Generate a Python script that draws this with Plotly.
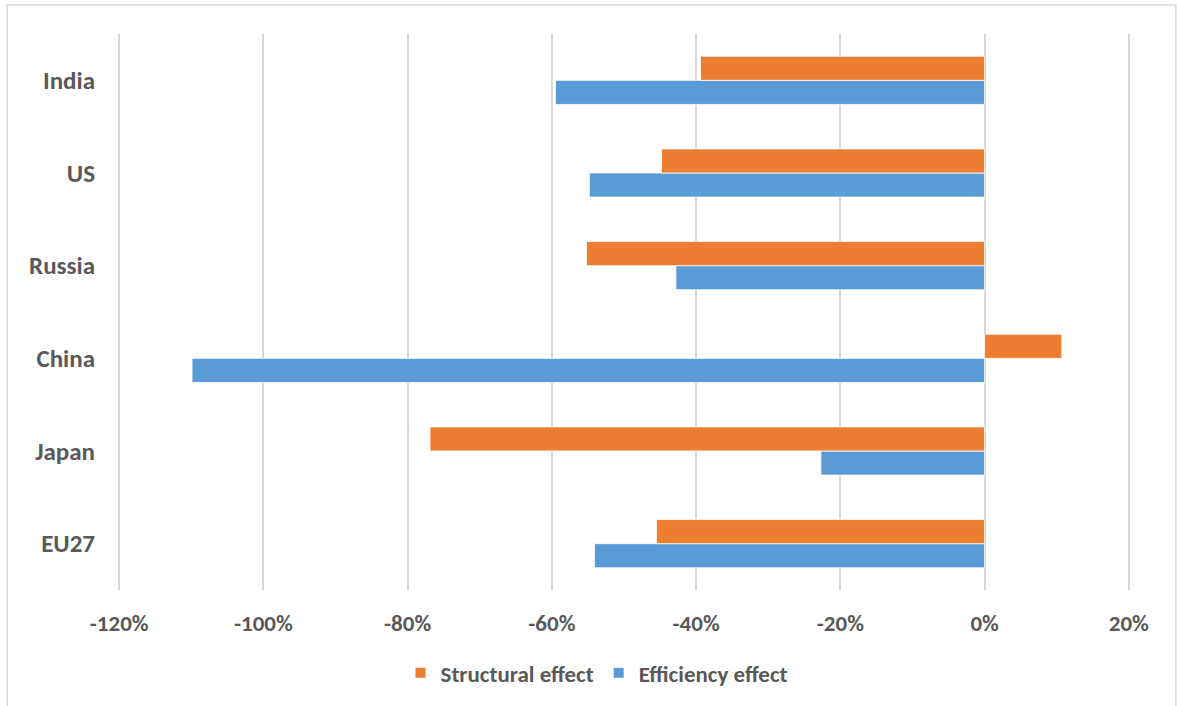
import plotly.graph_objects as go

# Decomposition of energy intensity change by country (share, %)
countries = ["EU27", "Japan", "China", "Russia", "US", "India"]
structural_effect = [-45.5, -76.9, 10.7, -55.2, -44.8, -39.4]
efficiency_effect = [-54.1, -22.7, -109.9, -42.8, -54.8, -59.5]

x_tick_values = [-120, -100, -80, -60, -40, -20, 0, 20]
x_tick_labels = ["-120%", "-100%", "-80%", "-60%", "-40%", "-20%", "0%", "20%"]

ORANGE = "#ED7D31"
BLUE = "#5B9BD5"
TEXT = "#595959"
GRID = "#D9D9D9"
FONT = "Carlito, Calibri, Lato, sans-serif"

W, H = 1177, 706
# padding of the x range so the outermost gridlines are drawn inside the plot
PAD = 0.3
PX_PER_UNIT = 1010 / 140
ML = 119 - PAD * PX_PER_UNIT
MR = 48 - PAD * PX_PER_UNIT
MT, MB = 34, 116

fig = go.Figure()
# Efficiency trace first so it sits below the structural bar in each group
fig.add_trace(go.Bar(
    y=countries, x=efficiency_effect, orientation="h", name="Efficiency effect",
    marker=dict(color=BLUE, line=dict(color="#ffffff", width=0.8)),
    legendrank=2,
))
fig.add_trace(go.Bar(
    y=countries, x=structural_effect, orientation="h", name="Structural effect",
    marker=dict(color=ORANGE, line=dict(color="#ffffff", width=0.8)),
    legendrank=1,
))

# Outer chart frame
pw, ph = W - ML - MR, H - MT - MB
fig.add_shape(
    type="rect", xref="paper", yref="paper",
    x0=(7 - ML) / pw, x1=(1176 - ML) / pw,
    y0=(H - MB - 712) / ph, y1=(H - MB - 5) / ph,
    line=dict(color=GRID, width=1.5), fillcolor="rgba(0,0,0,0)", layer="below",
)

fig.update_layout(
    width=W, height=H,
    margin=dict(l=ML, r=MR, t=MT, b=MB),
    paper_bgcolor="white", plot_bgcolor="white",
    barmode="group", bargap=0.48, bargroupgap=0,
    font=dict(family=FONT, color=TEXT, size=18),
    showlegend=True,
    legend=dict(
        orientation="h", x=(597 - ML) / pw, xanchor="center", y=-0.149, yanchor="middle",
        font=dict(family=FONT, size=23, color=TEXT, weight="bold"),
        itemsizing="constant", bgcolor="rgba(0,0,0,0)",
    ),
    xaxis=dict(
        range=[-120 - PAD, 20 + PAD], tickvals=x_tick_values, ticktext=x_tick_labels,
        showgrid=True, gridcolor=GRID, gridwidth=2, zeroline=False,
        showline=False, ticks="", ticklabelstandoff=17,
        tickfont=dict(family=FONT, size=23, color=TEXT, weight="bold"),
        fixedrange=True,
    ),
    yaxis=dict(
        type="category", categoryorder="array", categoryarray=countries,
        showgrid=False, zeroline=False, showline=False, ticks="",
        ticklabelstandoff=21,
        tickfont=dict(family=FONT, size=25, color=TEXT, weight="bold"),
        fixedrange=True,
    ),
)

fig.write_html("out.html")
